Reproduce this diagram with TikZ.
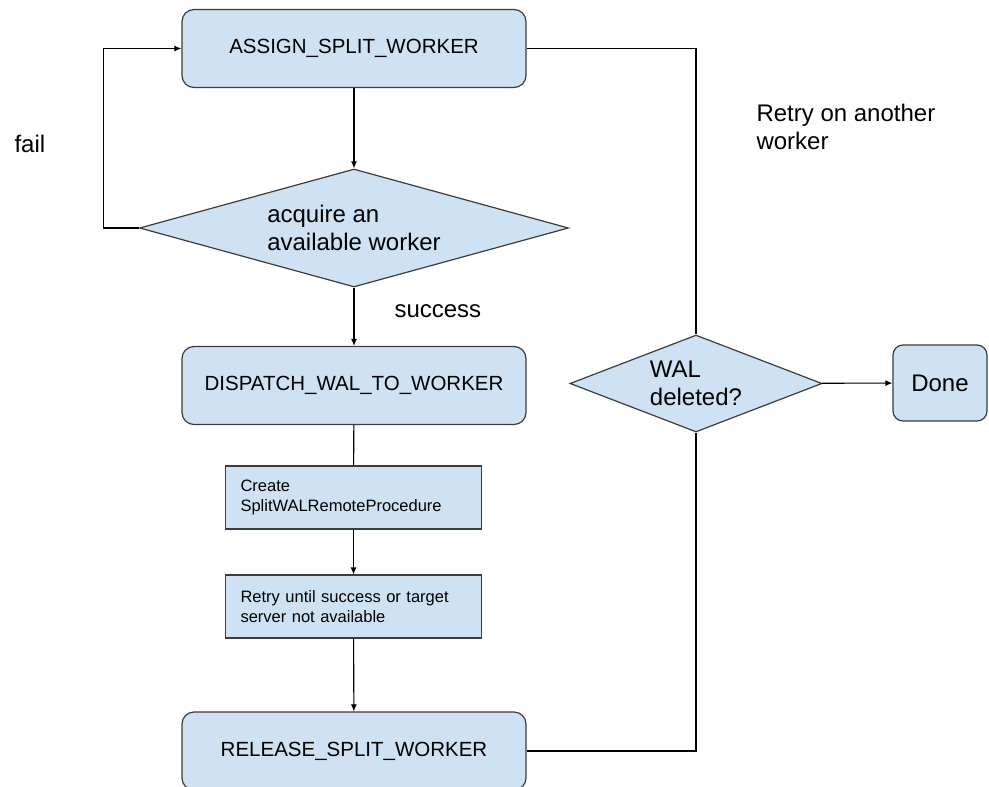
\documentclass[tikz,border=0pt]{standalone}
\usepackage{fontspec}
\setmainfont{Liberation Sans}
\usetikzlibrary{shapes.geometric,arrows.meta}
\definecolor{boxblue}{HTML}{CFE2F3}
\definecolor{edgegray}{HTML}{3C3C3C}

\begin{document}
\begin{tikzpicture}
  [x=1pt,y=-1pt,
   every node/.style={font=\fontsize{24}{28}\selectfont},
   state/.style={draw=edgegray,line width=1.2pt,fill=boxblue,rounded corners=12pt,
     minimum width=344pt,minimum height=78pt,font=\fontsize{20.5}{24}\selectfont},
   substep/.style={draw=edgegray,line width=1.2pt,fill=boxblue,minimum height=63pt,
     text width=226pt,inner xsep=15pt,align=left,font=\fontsize{16.5}{20.5}\selectfont},
   choice/.style={draw=edgegray,line width=1.2pt,fill=boxblue,diamond,inner sep=0pt,align=left},
   conn/.style={draw=black,line width=1.1pt},
   arr/.style={conn,-{Latex[length=7pt,width=6pt]}}]
  \useasboundingbox (0,0) rectangle (989,787);
  \clip (0,0) rectangle (989,787);

  \node[state] (assign) at (354,48.5) {ASSIGN\_SPLIT\_WORKER};
  \node[choice,aspect=3.64,minimum width=429pt,minimum height=118pt] (acquire) at (354,228)
    {acquire an\\available worker};
  \node[state] (dispatch) at (354,385.5) {DISPATCH\_WAL\_TO\_WORKER};
  \node[substep] (create) at (353.5,497.5) {Create\\SplitWALRemoteProcedure};
  \node[substep] (retry) at (353.5,606.5) {Retry until success or target server not available};
  \node[state] (release) at (354,751) {RELEASE\_SPLIT\_WORKER};
  \node[choice,aspect=2.6,minimum width=252pt,minimum height=97pt] (wal) at (696,383.5) {WAL\\deleted?};
  \node[draw=edgegray,line width=1.2pt,fill=boxblue,rounded corners=10pt,
    minimum width=94pt,minimum height=76pt] (done) at (940,383) {Done};

  \node[anchor=base west] (fail) at (11,152) {fail};
  \node[anchor=base west] (succ) at (391,317) {success};
  \node[anchor=base west,align=left] (again) at (753,149) {Retry on another\\worker};

  \draw[arr] (assign) -- (acquire);
  \draw[arr] (acquire.west) -- ++(-35,0) |- (assign.west);
  \draw[arr] (acquire) -- (dispatch);
  \draw[conn] (dispatch) -- (create);
  \draw[arr] (create) -- (retry);
  \draw[arr] (retry) -- (release);
  \draw[conn] (assign.east) -| (wal.north);
  \draw[conn] (release.east) -| (wal.south);
  \draw[arr] (wal) -- (done);

\end{tikzpicture}
\end{document}
